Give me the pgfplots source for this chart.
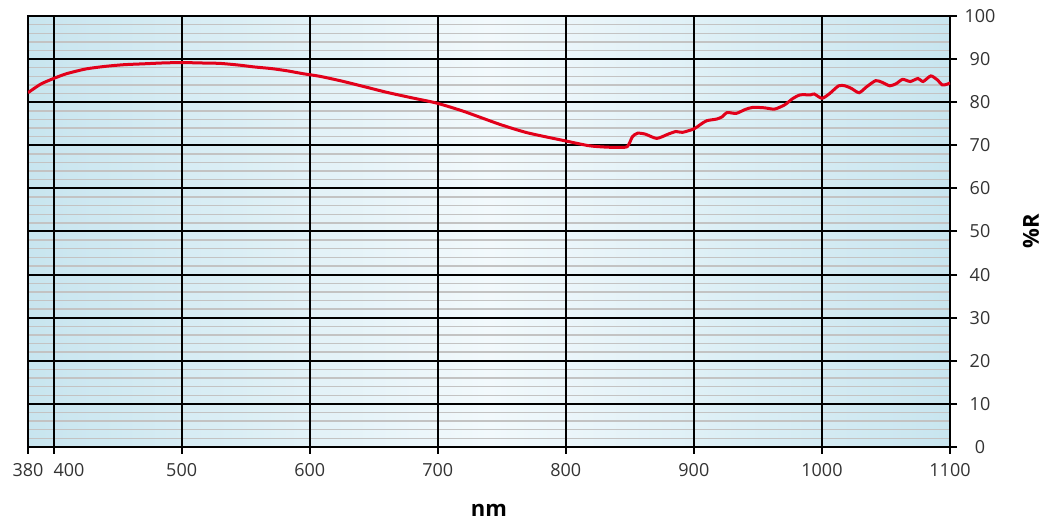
\documentclass[border=0pt]{standalone}
\usepackage{pgfplots}
\pgfplotsset{compat=1.18}
\usepackage{fontspec}
\setmainfont{Open Sans}
\definecolor{bgedge}{HTML}{C8E5EF}
\definecolor{bgmid}{HTML}{F2F9FC}
\definecolor{minorgray}{HTML}{C3C3C3}
\definecolor{curvered}{HTML}{E2001A}
\definecolor{ticktext}{HTML}{333333}

\pgfplotsset{
    frame/.style={
        scale only axis,
        width=922pt, height=431pt,
        xmin=380, xmax=1100, ymin=0, ymax=100,
    },
}

\begin{document}
\begin{tikzpicture}
% background and the thin grey lines every 2 %
\begin{axis}[
    frame,
    xtick=\empty,
    ytick={0,2,...,100}, yticklabels={},
    major tick length=0pt,
    ymajorgrids,
    major grid style={minorgray, line width=1.4pt},
    axis line style={draw=none},
    axis background/.style={left color=bgedge, right color=bgedge, middle color=bgmid},
]
\end{axis}
% black grid, curve, ticks and labels
\begin{axis}[
    frame,
    xtick={380,400,500,600,700,800,900,1000,1100},
    xticklabels={380,\makebox[0pt][l]{400},500,600,700,800,900,1000,1100},
    ytick={0,10,...,100},
    xtick pos=bottom, ytick pos=right, yticklabel pos=right,
    tick align=outside, major tick length=7pt,
    xmajorgrids, ymajorgrids,
    major grid style={black, line width=2pt},
    axis line style={black, line width=2.4pt},
    every tick/.style={black, line width=2pt},
    tick label style={font=\fontsize{18}{20}\selectfont, text=ticktext},
    /pgf/number format/assume math mode=true,
    /pgf/number format/1000 sep={},
    xticklabel style={yshift=-6pt},
    yticklabel style={anchor=center, xshift=23pt},
    xlabel={nm}, ylabel={\%R},
    label style={font=\bfseries\fontsize{22}{24}\selectfont, text=black},
    xlabel style={at={(axis description cs:0.5,0)}, anchor=center, yshift=-63pt},
    ylabel style={at={(axis description cs:1,0.5)}, anchor=center, yshift=-81pt},
]
\addplot[curvered, line width=3pt, smooth, tension=0.4] coordinates {
(380,82.2) (390,84.2) (400,85.5) (410,86.6) (425,87.7) (440,88.3) (455,88.7)
(470,88.9) (485,89.1) (500,89.2) (515,89.1) (530,89.0) (545,88.6) (556,88.2)
(570,87.8) (582,87.3) (595,86.6) (608,86.0) (625,84.9) (644,83.5) (660,82.3)
(680,81.0) (699,79.8) (720,77.9) (748,74.9) (770,72.9) (800,71.0) (818,69.9)
(830,69.6) (840,69.5) (848,69.7) (852,72.0) (856,72.8) (862,72.6) (871,71.6)
(880,72.6) (886,73.2) (891,73.0) (900,73.8) (905,74.8) (910,75.7) (918,76.1)
(922,76.6) (926,77.6) (933,77.4) (940,78.3) (946,78.8) (955,78.7) (963,78.4)
(971,79.4) (977,80.8) (983,81.7) (991,81.7) (994,81.9) (1000,80.9) (1006,82.0)
(1013,83.8) (1018,83.8) (1023,83.2) (1029,82.2) (1035,83.6) (1042,85.0)
(1047,84.6) (1053,83.8) (1058,84.3) (1063,85.3) (1069,84.8) (1075,85.5)
(1079,84.8) (1085,86.1) (1090,85.2) (1094,84.0) (1098,84.2) (1100,84.5)
};
\end{axis}
\pgfresetboundingbox
\path (-28pt,-79pt) rectangle (1030pt,447pt);
\end{tikzpicture}
\end{document}
